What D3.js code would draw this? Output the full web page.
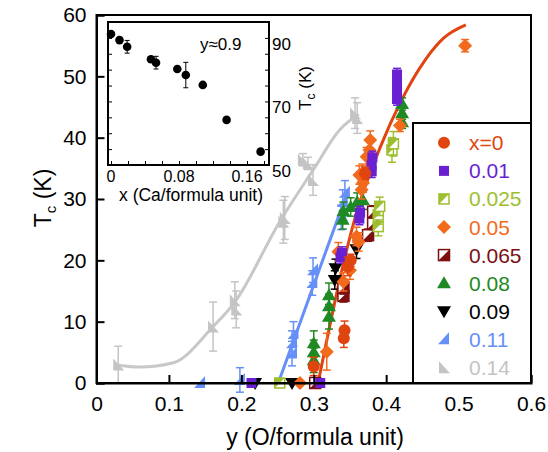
<!DOCTYPE html>
<html>
<head>
<meta charset="utf-8">
<script src="https://cdn.jsdelivr.net/npm/d3@7"></script>
<style>
  body { margin: 0; background: #fff; }
  text { font-family: "Liberation Sans", Arial, Helvetica, sans-serif; }
</style>
</head>
<body>
<div id="graf"></div>
<script>
// I. Datos  [y (O/formula unit), Tc (K), error]
const serie_x0 = [[0.300, 2.7, 1.5], [0.3415, 7.3, 1.5], [0.3425, 8.6, 1.5], [0.347, 19, 1.5], [0.351, 20, 1], [0.371, 34.2, 1]]
const serie_001 = [[0.214, 0, 0], [0.309, 0, 0], [0.337, 20.5, 1], [0.339, 21.2, 1], [0.363, 26.8, 1], [0.364, 27.8, 1],
        [0.380, 34.5, 1], [0.380, 35.5, 1], [0.381, 36.8, 1], [0.415, 46.3, 1], [0.415, 47.5, 1], [0.415, 48.8, 1], [0.415, 50.3, 1]]
const serie_0025 = [[0.253, 0, 0], [0.389, 25.5, 1.5], [0.389, 27.4, 1.5], [0.391, 28.8, 1.5], [0.408, 38, 2], [0.410, 39, 2]]
const serie_005 = [[0.281, 0, 0], [0.318, 5.1, 3], [0.334, 21.4, 1.5], [0.341, 16.5, 1.5], [0.350, 18.4, 1.5], [0.359, 23.9, 1.5],
        [0.362, 23.0, 1.5], [0.366, 31.5, 1.5], [0.368, 32.6, 1.5], [0.363, 33.9, 1.5], [0.367, 34.2, 1.5], [0.373, 36.9, 1.5],
        [0.377, 38, 1.5], [0.378, 39.6, 1.5], [0.419, 42, 1], [0.509, 55, 1]]
const serie_0065 = [[0.302, 0, 0], [0.341, 14.2, 1], [0.341, 15.5, 1], [0.375, 24.1, 1], [0.382, 26, 1], [0.382, 27.9, 1]]
const serie_008 = [[0.300, 3.7, 2], [0.300, 5, 2], [0.300, 6.5, 2], [0.321, 10.8, 2], [0.321, 12.5, 2], [0.321, 14.3, 2],
        [0.340, 26.6, 1.5], [0.341, 28, 1.5], [0.351, 28.7, 1.5], [0.360, 29.5, 1.5], [0.368, 29.8, 1.5],
        [0.422, 42.5, 1], [0.422, 44, 1], [0.422, 45.5, 1]]
const serie_009 = [[0.219, 0, 0], [0.270, 0, 0], [0.329, 16.8, 1.5], [0.330, 18.7, 1.5], [0.359, 21.8, 1.5]]
const serie_011 = [[0.143, 0, 0], [0.198, 0.5, 2], [0.270, 4.8, 2], [0.270, 6.5, 2], [0.272, 8, 2], [0.298, 16.3, 2],
        [0.299, 18.4, 2], [0.338, 27, 2], [0.340, 29.5, 2], [0.343, 31, 2]]
const serie_014 = [[0.030, 3, 3], [0.161, 9.2, 4], [0.191, 13.5, 3], [0.193, 12, 3], [0.258, 26.3, 3.5], [0.260, 26.9, 3.5],
        [0.285, 36.4, 1], [0.292, 35.8, 1], [0.299, 33.1, 2.5], [0.357, 44, 2.5], [0.360, 43.2, 2.5]]

const etiquetas = ['x=0', '0.01', '0.025', '0.05', '0.065', '0.08', '0.09', '0.11', '0.14']

// curvas de ajuste
const ajusteRojoY = [0.306, 0.359, 0.392, 0.419, 0.454, 0.480, 0.510]
const ajusteRojoT = [0, 27.7, 38.5, 45.6, 52.7, 56.3, 58.4]
const ajusteAzulY = [0.251, 0.346]
const ajusteAzulT = [0, 31]
const ajusteGrisY = [0.030, 0.060, 0.106, 0.161, 0.191, 0.253, 0.299, 0.336, 0.362]
const ajusteGrisT = [2.9, 2.6, 3.3, 9.2, 13.2, 26.3, 34.7, 41.3, 43.8]

// inset: Tc vs x a y~0.9
const insetX = [0, 0.010, 0.019, 0.047, 0.053, 0.078, 0.088, 0.108, 0.136, 0.176]
const insetT = [91.2, 89.3, 87.2, 83.3, 82.2, 80.2, 78.3, 75.2, 64.2, 54.2]
const insetErr = [0, 0, 2, 0, 2, 0, 4, 0, 0, 0]

const ticksX = [0, 0.1, 0.2, 0.3, 0.4, 0.5, 0.6]
const ticksY = [0, 10, 20, 30, 40, 50, 60]
const insetTicksX = [0, 0.08, 0.16]
const insetTicksT = [50, 70, 90]

// II. Configuracion
const ancho_total = 548, alto_total = 452
const svg = d3.select('#graf').append('svg')
        .attr('width', ancho_total)
        .attr('height', alto_total)

const series = [
        { datos: serie_x0, color: '#e0440f', forma: 'circulo' },
        { datos: serie_001, color: '#6a1fd2', forma: 'cuadrado' },
        { datos: serie_0025, color: '#9cbf2e', forma: 'mitadA' },
        { datos: serie_005, color: '#f26b1d', forma: 'diamante' },
        { datos: serie_0065, color: '#7d0f10', forma: 'mitadB' },
        { datos: serie_008, color: '#1f8a24', forma: 'trianguloArriba' },
        { datos: serie_009, color: '#000000', forma: 'trianguloAbajo' },
        { datos: serie_011, color: '#6690f8', forma: 'cunaDer' },
        { datos: serie_014, color: '#c4c4c4', forma: 'cunaIzq' }
]

const x = d3.scaleLinear().domain([0, 0.6]).range([96.5, 531])
const y = d3.scaleLinear().domain([0, 60]).range([383, 15])

// marcador en (0,0)
function marcador(sel, forma, color) {
        if (forma === 'circulo') {
                sel.append('circle').attr('r', 6).attr('fill', color)
        } else if (forma === 'cuadrado') {
                sel.append('rect').attr('x', -5).attr('y', -5).attr('width', 10).attr('height', 10).attr('fill', color)
        } else if (forma === 'mitadA') {
                sel.append('rect').attr('x', -5).attr('y', -5).attr('width', 10).attr('height', 10)
                        .attr('fill', '#fff').attr('stroke', color).attr('stroke-width', 1.5)
                sel.append('path').attr('d', 'M-5,-5L5,-5L-5,5Z').attr('fill', color)
        } else if (forma === 'mitadB') {
                sel.append('rect').attr('x', -5.5).attr('y', -5.5).attr('width', 11).attr('height', 11)
                        .attr('fill', '#fff').attr('stroke', color).attr('stroke-width', 1.5)
                sel.append('path').attr('d', 'M5.5,-5.5L5.5,5.5L-5.5,5.5Z').attr('fill', color)
        } else if (forma === 'diamante') {
                sel.append('path').attr('d', 'M0,-7L7,0L0,7L-7,0Z').attr('fill', color)
        } else if (forma === 'trianguloArriba') {
                sel.append('path').attr('d', 'M0,-7L7,5L-7,5Z').attr('fill', color)
        } else if (forma === 'trianguloAbajo') {
                sel.append('path').attr('d', 'M-7,-5L7,-5L0,7Z').attr('fill', color)
        } else if (forma === 'cunaDer') {
                sel.append('path').attr('d', 'M5,-7L5,5L-6,5Z').attr('fill', color)
        } else if (forma === 'cunaIzq') {
                sel.append('path').attr('d', 'M-5,-6L-5,6L6,6Z').attr('fill', color)
        }
}

// III. Inset
const xi = d3.scaleLinear().domain([0, 0.16]).range([111, 247])
const ti = d3.scaleLinear().domain([50, 95]).range([165, 22])
const gi = svg.append('g')

gi.append('rect').attr('x', 108).attr('y', 22).attr('width', 161).attr('height', 143)
        .attr('fill', '#fff').attr('stroke', '#000').attr('stroke-width', 2)

gi.append('g').attr('transform', 'translate(0,165)')
        .call(d3.axisBottom(xi).tickValues(d3.range(0, 0.181, 0.02)).tickSize(-4).tickFormat(''))
        .call(g => g.select('.domain').remove())
gi.append('g').attr('transform', 'translate(108,0)')
        .call(d3.axisLeft(ti).tickValues(d3.range(50, 96, 5)).tickSize(-4).tickFormat(''))
        .call(g => g.select('.domain').remove())
gi.append('g').attr('transform', 'translate(269,0)')
        .call(d3.axisRight(ti).tickValues(d3.range(50, 96, 5)).tickSize(-4).tickFormat(''))
        .call(g => g.select('.domain').remove())

gi.selectAll('.ejeXi').data(insetTicksX).join('text')
        .attr('x', d => xi(d)).attr('y', 181.5)
        .attr('text-anchor', 'middle').attr('font-size', 16)
        .text(d => d === 0 ? '0' : d3.format('.2f')(d))
gi.selectAll('.ejeTi').data(insetTicksT).join('text')
        .attr('x', 272).attr('y', d => ti(d) + 12)
        .attr('font-size', 17)
        .text(d => d)

gi.append('text').attr('x', 191).attr('y', 201).attr('text-anchor', 'middle')
        .attr('font-size', 17.5).text('x (Ca/formula unit)')
gi.append('text').attr('x', 200).attr('y', 50).attr('font-size', 17).text('y≈0.9')
const tInset = gi.append('text').attr('transform', 'translate(311,88) rotate(-90)')
        .attr('text-anchor', 'middle').attr('font-size', 17)
tInset.append('tspan').text('T')
tInset.append('tspan').attr('font-size', 12).attr('dy', 4).text('c')
tInset.append('tspan').attr('dy', -4).text(' (K)')

insetX.forEach((d, i) => {
        if (insetErr[i] > 0) {
                const e = gi.append('g').attr('stroke', '#000').attr('stroke-width', 1)
                e.append('line').attr('x1', xi(d)).attr('x2', xi(d))
                        .attr('y1', ti(insetT[i] - insetErr[i])).attr('y2', ti(insetT[i] + insetErr[i]))
                e.append('line').attr('x1', xi(d) - 2.5).attr('x2', xi(d) + 2.5)
                        .attr('y1', ti(insetT[i] - insetErr[i])).attr('y2', ti(insetT[i] - insetErr[i]))
                e.append('line').attr('x1', xi(d) - 2.5).attr('x2', xi(d) + 2.5)
                        .attr('y1', ti(insetT[i] + insetErr[i])).attr('y2', ti(insetT[i] + insetErr[i]))
        }
})
gi.selectAll('circle.pi').data(insetX).join('circle')
        .attr('class', 'pi')
        .attr('cx', d => xi(d)).attr('cy', (d, i) => ti(insetT[i]))
        .attr('r', 4.3).attr('fill', '#000')

// IV. Curvas de ajuste
const linea = d3.line().x(d => x(d[0])).y(d => y(d[1])).curve(d3.curveMonotoneX)
const ajustes = [
        { ys: ajusteGrisY, ts: ajusteGrisT, color: '#c8c8c8' },
        { ys: ajusteAzulY, ts: ajusteAzulT, color: '#6690f8' },
        { ys: ajusteRojoY, ts: ajusteRojoT, color: '#e0440f' }
]
ajustes.forEach(a => {
        svg.append('path')
                .datum(a.ys.map((v, i) => [v, a.ts[i]]))
                .attr('d', linea)
                .attr('fill', 'none')
                .attr('stroke', a.color)
                .attr('stroke-width', 3)
})

// V. Puntos con barras de error
const orden = [8, 7, 6, 5, 4, 3, 2, 1, 0]
orden.forEach(k => {
        const s = series[k]
        const gs = svg.append('g')
        s.datos.forEach(d => {
                if (d[2] > 0) {
                        const e = gs.append('g').attr('stroke', s.color).attr('stroke-width', 1.5)
                        e.append('line').attr('x1', x(d[0])).attr('x2', x(d[0]))
                                .attr('y1', y(d[1] - d[2])).attr('y2', y(d[1] + d[2]))
                        e.append('line').attr('x1', x(d[0]) - 4).attr('x2', x(d[0]) + 4)
                                .attr('y1', y(d[1] - d[2])).attr('y2', y(d[1] - d[2]))
                        e.append('line').attr('x1', x(d[0]) - 4).attr('x2', x(d[0]) + 4)
                                .attr('y1', y(d[1] + d[2])).attr('y2', y(d[1] + d[2]))
                }
                const m = gs.append('g').attr('transform', `translate(${x(d[0])},${y(d[1])})`)
                marcador(m, s.forma, s.color)
        })
})

// VI. Ejes y marco
svg.append('rect').attr('x', 96.5).attr('y', 15).attr('width', 434.5).attr('height', 368)
        .attr('fill', 'none').attr('stroke', '#000').attr('stroke-width', 2)

const ejeX = svg.append('g').attr('transform', 'translate(0,383)')
        .call(d3.axisBottom(x).tickValues(ticksX).tickSize(-8).tickPadding(13)
                .tickFormat(d => d === 0 ? '0' : d3.format('.1f')(d)))
const ejeY = svg.append('g').attr('transform', 'translate(96.5,0)')
        .call(d3.axisLeft(y).tickValues(ticksY).tickSize(-8).tickPadding(10))
;[ejeX, ejeY].forEach(e => {
        e.select('.domain').attr('stroke-width', 2)
        e.selectAll('.tick line').attr('stroke-width', 2)
        e.selectAll('text').attr('font-size', 21).attr('font-family', '"Liberation Sans", Arial, sans-serif')
})

svg.append('text').attr('x', 315).attr('y', 445).attr('text-anchor', 'middle')
        .attr('font-size', 23).text('y (O/formula unit)')
const tTitulo = svg.append('text').attr('transform', 'translate(51,198) rotate(-90)')
        .attr('text-anchor', 'middle').attr('font-size', 23)
tTitulo.append('tspan').text('T')
tTitulo.append('tspan').attr('font-size', 15).attr('dy', 5).text('c')
tTitulo.append('tspan').attr('dy', -5).text(' (K)')

// VII. Leyenda
const ley = svg.append('g')
ley.append('rect').attr('x', 413).attr('y', 123).attr('width', 118).attr('height', 260)
        .attr('fill', '#fff').attr('stroke', '#000').attr('stroke-width', 2)
series.forEach((s, i) => {
        const yy = 142.8 + i * 28.07
        const m = ley.append('g').attr('transform', `translate(444,${yy})`)
        marcador(m, s.forma, s.color)
        ley.append('text').attr('x', 469).attr('y', yy + 7.5)
                .attr('font-size', 21).attr('fill', s.color)
                .text(etiquetas[i])
})
</script>
</body>
</html>
